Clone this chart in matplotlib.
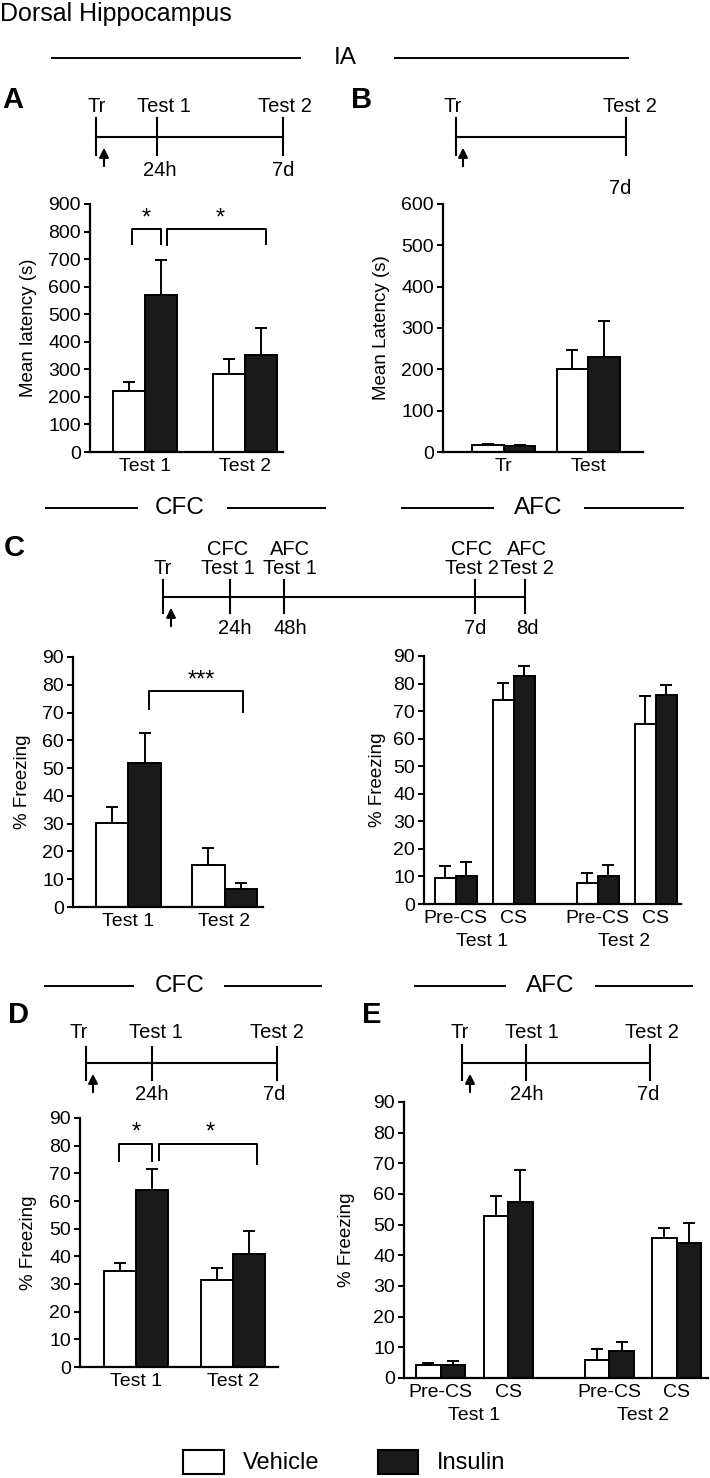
import matplotlib
matplotlib.use('Agg')
import matplotlib.pyplot as plt
from matplotlib.patches import Rectangle

plt.rcParams['font.family'] = ['Liberation Sans', 'DejaVu Sans']
plt.rcParams['axes.linewidth'] = 1.5

W, H = 710, 1478

# ---- data ----
ia_groups = ['Test 1', 'Test 2']
ia_veh = [221, 282]
ia_veh_err = [32, 55]
ia_ins = [571, 353]
ia_ins_err = [127, 96]

tr_groups = ['Tr', 'Test']
tr_veh = [17, 200]
tr_veh_err = [3, 46]
tr_ins = [15, 230]
tr_ins_err = [3, 87]

cfc_groups = ['Test 1', 'Test 2']
cfc_veh = [30.1, 15.2]
cfc_veh_err = [6.0, 6.0]
cfc_ins = [52.0, 6.5]
cfc_ins_err = [10.5, 2.2]

afc_phases = ['Pre-CS', 'CS', 'Pre-CS', 'CS']
afc_tests = ['Test 1', 'Test 2']
afc_veh = [9.5, 74.2, 7.6, 65.5]
afc_veh_err = [4.2, 6.0, 3.8, 10.0]
afc_ins = [10.3, 82.8, 10.1, 76.0]
afc_ins_err = [4.9, 3.7, 3.9, 3.4]

cfc2_veh = [34.6, 31.4]
cfc2_veh_err = [2.9, 4.5]
cfc2_ins = [64.0, 40.8]
cfc2_ins_err = [7.4, 8.4]

afc2_veh = [4.3, 52.9, 5.8, 45.5]
afc2_veh_err = [0.7, 6.3, 3.5, 3.3]
afc2_ins = [4.1, 57.4, 8.7, 44.0]
afc2_ins_err = [1.3, 10.3, 3.2, 6.4]

fig = plt.figure(figsize=(W / 100, H / 100), dpi=100)

# overlay in pixel coordinates for headings, timelines and legend
ov = fig.add_axes([0, 0, 1, 1])
ov.set_xlim(0, W)
ov.set_ylim(H, 0)
ov.axis('off')


def px_axes(x0, y0, x1, y1):
    ax = fig.add_axes([x0 / W, 1 - y1 / H, (x1 - x0) / W, (y1 - y0) / H])
    ax.set_facecolor('none')
    return ax


def style(ax, ymax, step, ylabel, xlim, labelpad=8):
    ax.set_ylim(0, ymax)
    ax.set_xlim(*xlim)
    ax.set_yticks(range(0, ymax + 1, step))
    ax.spines['top'].set_visible(False)
    ax.spines['right'].set_visible(False)
    ax.spines['left'].set_linewidth(1.6)
    ax.spines['bottom'].set_linewidth(1.6)
    ax.tick_params(axis='y', direction='out', length=4.5, width=1.4, labelsize=14, pad=2)
    ax.tick_params(axis='x', length=0, labelsize=14, pad=4)
    ax.set_ylabel(ylabel, fontsize=13.5, labelpad=labelpad)


def bars(ax, pos, veh, veh_err, ins, ins_err, width):
    xv = [p - width / 2 for p in pos]
    xi = [p + width / 2 for p in pos]
    ax.bar(xv, veh, width, color='white', edgecolor='black', linewidth=1.4, zorder=2)
    ax.bar(xi, ins, width, color='#1a1a1a', edgecolor='black', linewidth=1.4, zorder=2)
    for xs, vals, errs in ((xv, veh, veh_err), (xi, ins, ins_err)):
        ax.errorbar(xs, vals, yerr=[[0] * len(vals), errs], fmt='none', ecolor='black',
                    elinewidth=1.4, capsize=4.5, capthick=1.4, zorder=3)


def bracket(ax, x0, x1, top, l0, l1, label, sx):
    ax.plot([x0, x0, x1, x1], [l0, top, top, l1], color='black', lw=1.4, clip_on=False)
    ax.text(sx, top, label, ha='center', va='bottom', fontsize=17, clip_on=False)


def heading(y, x0, x1, tx, x2, x3, label):
    ov.plot([x0, x1], [y, y], color='black', lw=1.4)
    ov.plot([x2, x3], [y, y], color='black', lw=1.4)
    ov.text(tx, y, label, ha='center', va='center', fontsize=17.5)


def timeline(ticks, y, top, bottom, arrow_x, fs=14.5):
    ov.plot([ticks[0][0], ticks[-1][0]], [y, y], color='black', lw=1.5)
    for x, t0, t1 in ticks:
        ov.plot([x, x], [t0, t1], color='black', lw=1.5)
    for x, yy, s in top + bottom:
        ov.text(x, yy, s, ha='center', va='center', fontsize=fs, linespacing=0.95)
    ov.annotate('', xy=(arrow_x, y + 8), xytext=(arrow_x, y + 32),
                arrowprops=dict(arrowstyle='-|>', color='black', lw=1.5, mutation_scale=14))


def letter(x, y, s):
    ov.text(x, y, s, ha='center', va='center', fontsize=21, fontweight='bold')


# ---- headers ----
ov.text(0, 14, 'Dorsal Hippocampus', ha='left', va='center', fontsize=18)
heading(58, 52, 300, 345, 395, 628, 'IA')
heading(508, 46, 137, 180, 228, 325, 'CFC')
heading(508, 402, 493, 538, 585, 683, 'AFC')
heading(986, 45, 133, 180, 225, 321, 'CFC')
heading(986, 415, 505, 550, 596, 692, 'AFC')

letter(13, 100, 'A')
letter(362, 100, 'B')
letter(14, 548, 'C')
letter(18, 1015, 'D')
letter(372, 1015, 'E')

# ---- timelines ----
timeline([(96, 118, 155), (157, 118, 155), (283, 118, 155)], 137,
         [(97, 107, 'Tr'), (164, 107, 'Test 1'), (285, 107, 'Test 2')],
         [(160, 170, '24h'), (283, 170, '7d')], 104)
timeline([(456, 118, 155), (626, 118, 155)], 137,
         [(453, 107, 'Tr'), (630, 107, 'Test 2')],
         [(620, 188, '7d')], 463)
timeline([(163, 580, 613), (230, 580, 613), (284, 580, 613), (475, 580, 613), (525, 580, 613)], 597,
         [(163, 568, 'Tr'), (228, 559, 'CFC\nTest 1'), (290, 559, 'AFC\nTest 1'),
          (472, 559, 'CFC\nTest 2'), (527, 559, 'AFC\nTest 2')],
         [(235, 628, '24h'), (290, 628, '48h'), (475, 628, '7d'), (527, 628, '8d')], 171)
timeline([(86, 1047, 1080), (152, 1047, 1080), (277, 1047, 1080)], 1063,
         [(79, 1032, 'Tr'), (156, 1032, 'Test 1'), (277, 1032, 'Test 2')],
         [(152, 1095, '24h'), (274, 1095, '7d')], 93)
timeline([(462, 1045, 1080), (526, 1045, 1080), (650, 1045, 1080)], 1063,
         [(460, 1032, 'Tr'), (532, 1032, 'Test 1'), (652, 1032, 'Test 2')],
         [(527, 1095, '24h'), (648, 1095, '7d')], 470)

# ---- panel A ----
ax = px_axes(90, 204, 283, 452)
bars(ax, [0, 1], ia_veh, ia_veh_err, ia_ins, ia_ins_err, 0.32)
style(ax, 900, 100, 'Mean latency (s)', (-0.55, 1.38), labelpad=8)
ax.set_xticks([0, 1], ia_groups)
bracket(ax, -0.13, 0.16, 808, 755, 755, '*', 0.015)
bracket(ax, 0.22, 1.21, 808, 750, 755, '*', 0.75)

# ---- panel B ----
ax = px_axes(443, 204, 643, 452)
bars(ax, [0, 1], tr_veh, tr_veh_err, tr_ins, tr_ins_err, 0.375)
style(ax, 600, 100, 'Mean Latency (s)', (-0.72, 1.65), labelpad=8)
ax.set_xticks([0, 1], tr_groups)

# ---- panel C left ----
ax = px_axes(73, 657, 263, 907)
bars(ax, [0, 1], cfc_veh, cfc_veh_err, cfc_ins, cfc_ins_err, 0.34)
style(ax, 90, 10, '% Freezing', (-0.576, 1.40), labelpad=8)
ax.set_xticks([0, 1], cfc_groups)
bracket(ax, 0.216, 1.19, 77.6, 71.4, 70.2, '***', 0.76)

# ---- panel C right ----
ax = px_axes(424, 656, 681, 904)
pos = [0, 1, 2.45, 3.45]
bars(ax, pos, afc_veh, afc_veh_err, afc_ins, afc_ins_err, 0.36)
style(ax, 90, 10, '% Freezing', (-0.547, 3.885), labelpad=5)
ax.set_xticks(pos, afc_phases)
for c, t in zip([0.45, 2.9], afc_tests):
    ax.annotate(t, xy=(c, 0), xycoords=('data', 'axes fraction'), xytext=(0, -21),
                textcoords='offset points', ha='center', va='top', fontsize=14)

# ---- panel D ----
ax = px_axes(80, 1118, 278, 1367)
bars(ax, [0, 1], cfc2_veh, cfc2_veh_err, cfc2_ins, cfc2_ins_err, 0.33)
style(ax, 90, 10, '% Freezing', (-0.584, 1.47), labelpad=9)
ax.set_xticks([0, 1], cfc_groups)
bracket(ax, -0.176, 0.166, 80.6, 74.6, 74.4, '*', -0.005)
bracket(ax, 0.239, 1.249, 80.6, 74.8, 73.3, '*', 0.765)

# ---- panel E ----
ax = px_axes(404, 1102, 708, 1378)
pos = [0, 1, 2.5, 3.5]
bars(ax, pos, afc2_veh, afc2_veh_err, afc2_ins, afc2_ins_err, 0.365)
style(ax, 90, 10, '% Freezing', (-0.545, 3.965), labelpad=13)
ax.set_xticks(pos, afc_phases)
for c, t in zip([0.5, 3.0], afc_tests):
    ax.annotate(t, xy=(c, 0), xycoords=('data', 'axes fraction'), xytext=(0, -21),
                textcoords='offset points', ha='center', va='top', fontsize=14)

# ---- legend ----
ov.add_patch(Rectangle((183, 1450), 41, 24, facecolor='white', edgecolor='black', lw=1.5))
ov.text(243, 1463, 'Vehicle', ha='left', va='center', fontsize=17)
ov.add_patch(Rectangle((378, 1450), 40, 24, facecolor='#1a1a1a', edgecolor='black', lw=1.5))
ov.text(437, 1463, 'Insulin', ha='left', va='center', fontsize=17)

fig.savefig('out.png', dpi=100)
